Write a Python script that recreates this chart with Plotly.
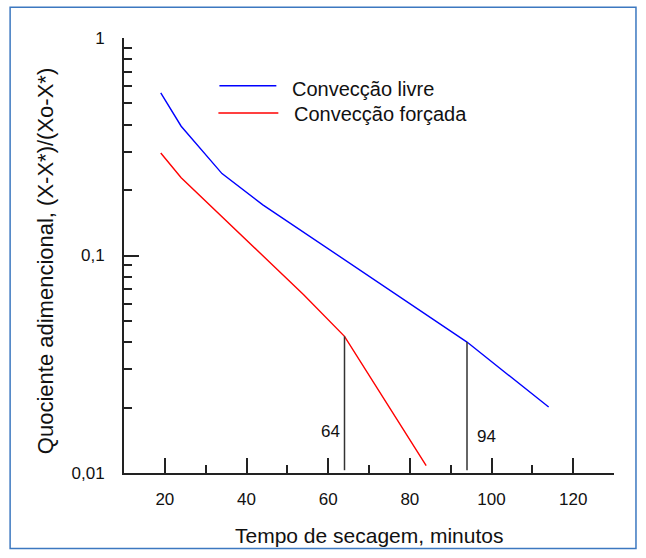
import math
import plotly.graph_objects as go

# ---- data ----
series_names = ["Convecção livre", "Convecção forçada"]
x_livre = [19, 24, 34, 44, 94, 114]
y_livre = [0.56, 0.393, 0.238, 0.171, 0.040, 0.0201]
x_forcada = [19, 24, 54, 64, 84]
y_forcada = [0.296, 0.228, 0.066, 0.0425, 0.0108]
marker_x = [64, 94]
marker_labels = ["64", "94"]
marker_label_y = [0.0155, 0.0147]
marker_bottom = 0.0103
x_tickvals = [20, 40, 60, 80, 100, 120]
x_minorvals = [30, 50, 70, 90, 110, 130]
y_tickvals = [0.01, 0.1, 1]
y_ticktext = ["0,01", "0,1", "1"]
y_minorvals = [m * d for d in (0.01, 0.1) for m in range(2, 10)]

# ---- geometry helpers (pixel -> paper) ----
W, H = 646, 558
L, R, T, B = 123.5, 32, 38.3, 84.5
PW, PH = W - L - R, H - T - B


def px(xp):
    return (xp - L) / PW


def py(yp):
    return (H - B - yp) / PH


FONT = "Liberation Sans, Arial, sans-serif"
AXC = "#222222"

fig = go.Figure()
fig.add_trace(go.Scatter(x=x_livre, y=y_livre, mode="lines", name=series_names[0],
                         line=dict(color="#0000ff", width=1.4)))
fig.add_trace(go.Scatter(x=x_forcada, y=y_forcada, mode="lines", name=series_names[1],
                         line=dict(color="#ff0000", width=1.4)))

tops = [y_forcada[x_forcada.index(marker_x[0])], y_livre[x_livre.index(marker_x[1])]]
for mx, top in zip(marker_x, tops):
    fig.add_trace(go.Scatter(x=[mx, mx], y=[marker_bottom, top], mode="lines",
                             line=dict(color="#333333", width=1.5), showlegend=False,
                             hoverinfo="skip"))

# labels beside the marker lines (log axis -> annotation y in log10 units)
fig.add_annotation(x=marker_x[0], y=math.log10(marker_label_y[0]), xref="x", yref="y",
                   text=marker_labels[0], showarrow=False, xanchor="right", yanchor="middle",
                   xshift=-3, font=dict(family=FONT, size=17, color="#111"))
fig.add_annotation(x=marker_x[1], y=math.log10(marker_label_y[1]), xref="x", yref="y",
                   text=marker_labels[1], showarrow=False, xanchor="left", yanchor="middle",
                   xshift=8, font=dict(family=FONT, size=17, color="#111"))

# axis titles
fig.add_annotation(x=0.5, y=py(536), xref="paper", yref="paper",
                   text="Tempo de secagem, minutos", showarrow=False,
                   xanchor="center", yanchor="middle",
                   font=dict(family=FONT, size=21, color="#111"))
fig.add_annotation(x=px(45), y=py(262), xref="paper", yref="paper",
                   text="Quociente adimencional, (X-X*)/(Xo-X*)", showarrow=False,
                   textangle=-90, xanchor="center", yanchor="middle",
                   font=dict(family=FONT, size=22, color="#111"))

# manual legend
shapes = []
for (x0, x1, yy, col) in [(219, 276, 86, "#0000ff"), (218, 278, 113.3, "#ff0000")]:
    shapes.append(dict(type="line", xref="paper", yref="paper", x0=px(x0), x1=px(x1),
                       y0=py(yy), y1=py(yy), line=dict(color=col, width=1.4)))
fig.add_annotation(x=px(290), y=py(89), xref="paper", yref="paper", text=series_names[0],
                   showarrow=False, xanchor="left", yanchor="middle",
                   font=dict(family=FONT, size=20, color="#111"))
fig.add_annotation(x=px(291.5), y=py(114.5), xref="paper", yref="paper", text=series_names[1],
                   showarrow=False, xanchor="left", yanchor="middle",
                   font=dict(family=FONT, size=20, color="#111"))

# figure border
shapes.append(dict(type="rect", xref="paper", yref="paper", x0=px(9.5), x1=px(636),
                   y0=py(549), y1=py(7.5), line=dict(color="#3c78c0", width=1.5),
                   layer="below"))

fig.update_layout(
    width=W, height=H, autosize=False,
    margin=dict(l=L, r=R, t=T, b=B, pad=0),
    paper_bgcolor="white", plot_bgcolor="white",
    showlegend=False, shapes=shapes,
    font=dict(family=FONT, color="#111"),
)
fig.update_xaxes(
    range=[10, 130], tickvals=x_tickvals, ticks="inside", ticklen=15, tickwidth=1.5,
    tickcolor=AXC, showline=True, linecolor=AXC, linewidth=2, showgrid=False,
    zeroline=False, tickfont=dict(family=FONT, size=17, color="#111"),
    ticklabelstandoff=10,
    minor=dict(tickmode="array", tickvals=x_minorvals, ticks="inside", ticklen=8,
               tickwidth=1.5, tickcolor=AXC, showgrid=False),
)
fig.update_yaxes(
    type="log", range=[-2, 0], tickvals=y_tickvals, ticktext=y_ticktext,
    ticks="inside", ticklen=15, tickwidth=1.5, tickcolor=AXC,
    showline=True, linecolor=AXC, linewidth=2, showgrid=False, zeroline=False,
    tickfont=dict(family=FONT, size=17, color="#111"), ticklabelstandoff=14,
    minor=dict(tickmode="array", tickvals=y_minorvals, ticks="inside", ticklen=8,
               tickwidth=1.5, tickcolor=AXC, showgrid=False),
)

fig.write_html("out.html")
